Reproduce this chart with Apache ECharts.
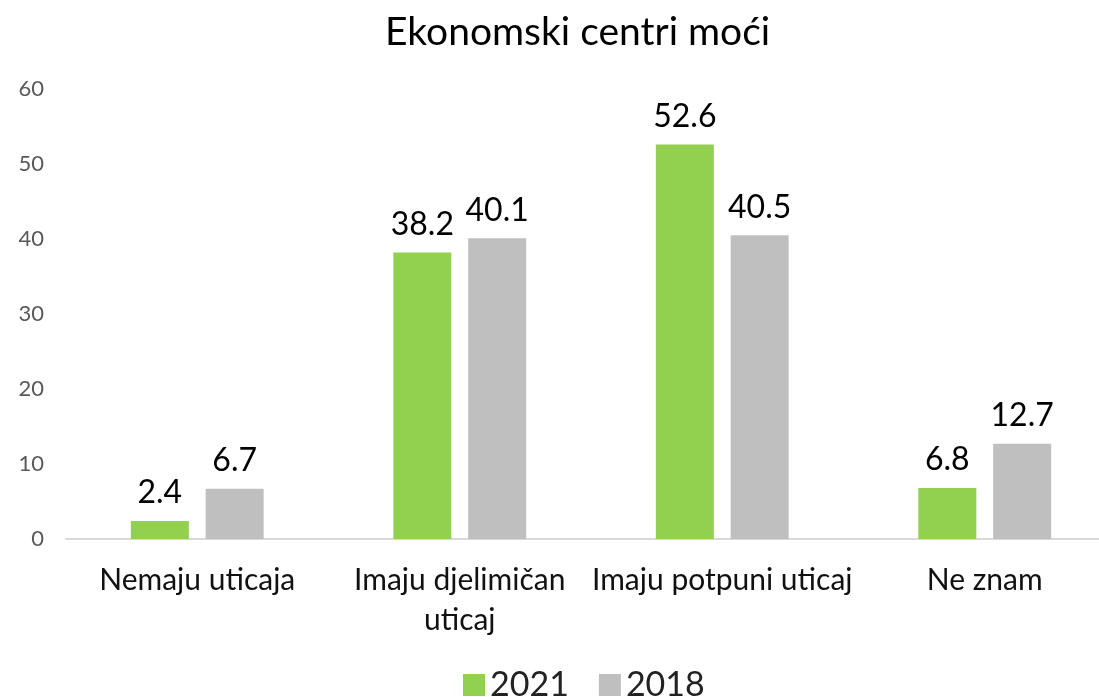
<!DOCTYPE html>
<html>
<head>
<meta charset="utf-8">
<script src="https://cdn.jsdelivr.net/npm/echarts@6/dist/echarts.min.js"></script>
<style>
  html, body { margin: 0; padding: 0; background: #fff; }
  #chart { width: 1099px; height: 697px; }
</style>
</head>
<body>
<div id="chart"></div>
<script>
const categories = ["Nemaju uticaja", "Imaju djelimičan\nuticaj", "Imaju potpuni uticaj", "Ne znam"];
const values2021 = [2.4, 38.2, 52.6, 6.8];
const values2018 = [6.7, 40.1, 40.5, 12.7];
const yTicks = [0, 10, 20, 30, 40, 50, 60];

var myChart = echarts.init(document.getElementById("chart"));
var font = "Lato, 'Open Sans', sans-serif";

var option = {
  textStyle: { fontFamily: font },
  title: {
    text: "Ekonomski centri moći",
    left: 380,
    top: 8,
    textStyle: { fontFamily: font, fontSize: 39, fontWeight: "normal", color: "#000" },
  },
  legend: {
    bottom: -10,
    left: 458,
    itemWidth: 22,
    itemHeight: 22,
    itemGap: 30,
    icon: "rect",
    textStyle: { fontFamily: font, fontSize: 34, color: "#222" },
    data: ["2021", "2018"],
  },
  grid: {
    left: 66,
    top: 89,
    bottom: 158,
    width: 1050,
    containLabel: false,
    outerBoundsMode: "none",
  },
  xAxis: {
    type: "category",
    data: categories,
    axisTick: { show: false },
    axisLine: { lineStyle: { color: "#d9d9d9", width: 2 } },
    axisLabel: {
      interval: 0,
      color: "#111",
      fontSize: 30,
      fontFamily: font,
      margin: 21,
      lineHeight: 40,
    },
  },
  yAxis: {
    type: "value",
    min: yTicks[0],
    max: yTicks[yTicks.length - 1],
    interval: 10,
    splitLine: { show: false },
    axisLine: { show: false },
    axisTick: { show: false },
    axisLabel: { color: "#595959", fontSize: 22, fontFamily: font, margin: 22 },
  },
  series: [
    {
      name: "2021",
      type: "bar",
      data: values2021,
      barWidth: 58,
      barGap: "29%",
      itemStyle: { color: "#92d050" },
      label: { show: true, position: "top", distance: 12, fontSize: 32, color: "#000", fontFamily: font },
    },
    {
      name: "2018",
      type: "bar",
      data: values2018,
      barWidth: 58,
      itemStyle: { color: "#bfbfbf" },
      label: { show: true, position: "top", distance: 12, fontSize: 32, color: "#000", fontFamily: font },
    },
  ],
};

option && myChart.setOption(option);
</script>
</body>
</html>
